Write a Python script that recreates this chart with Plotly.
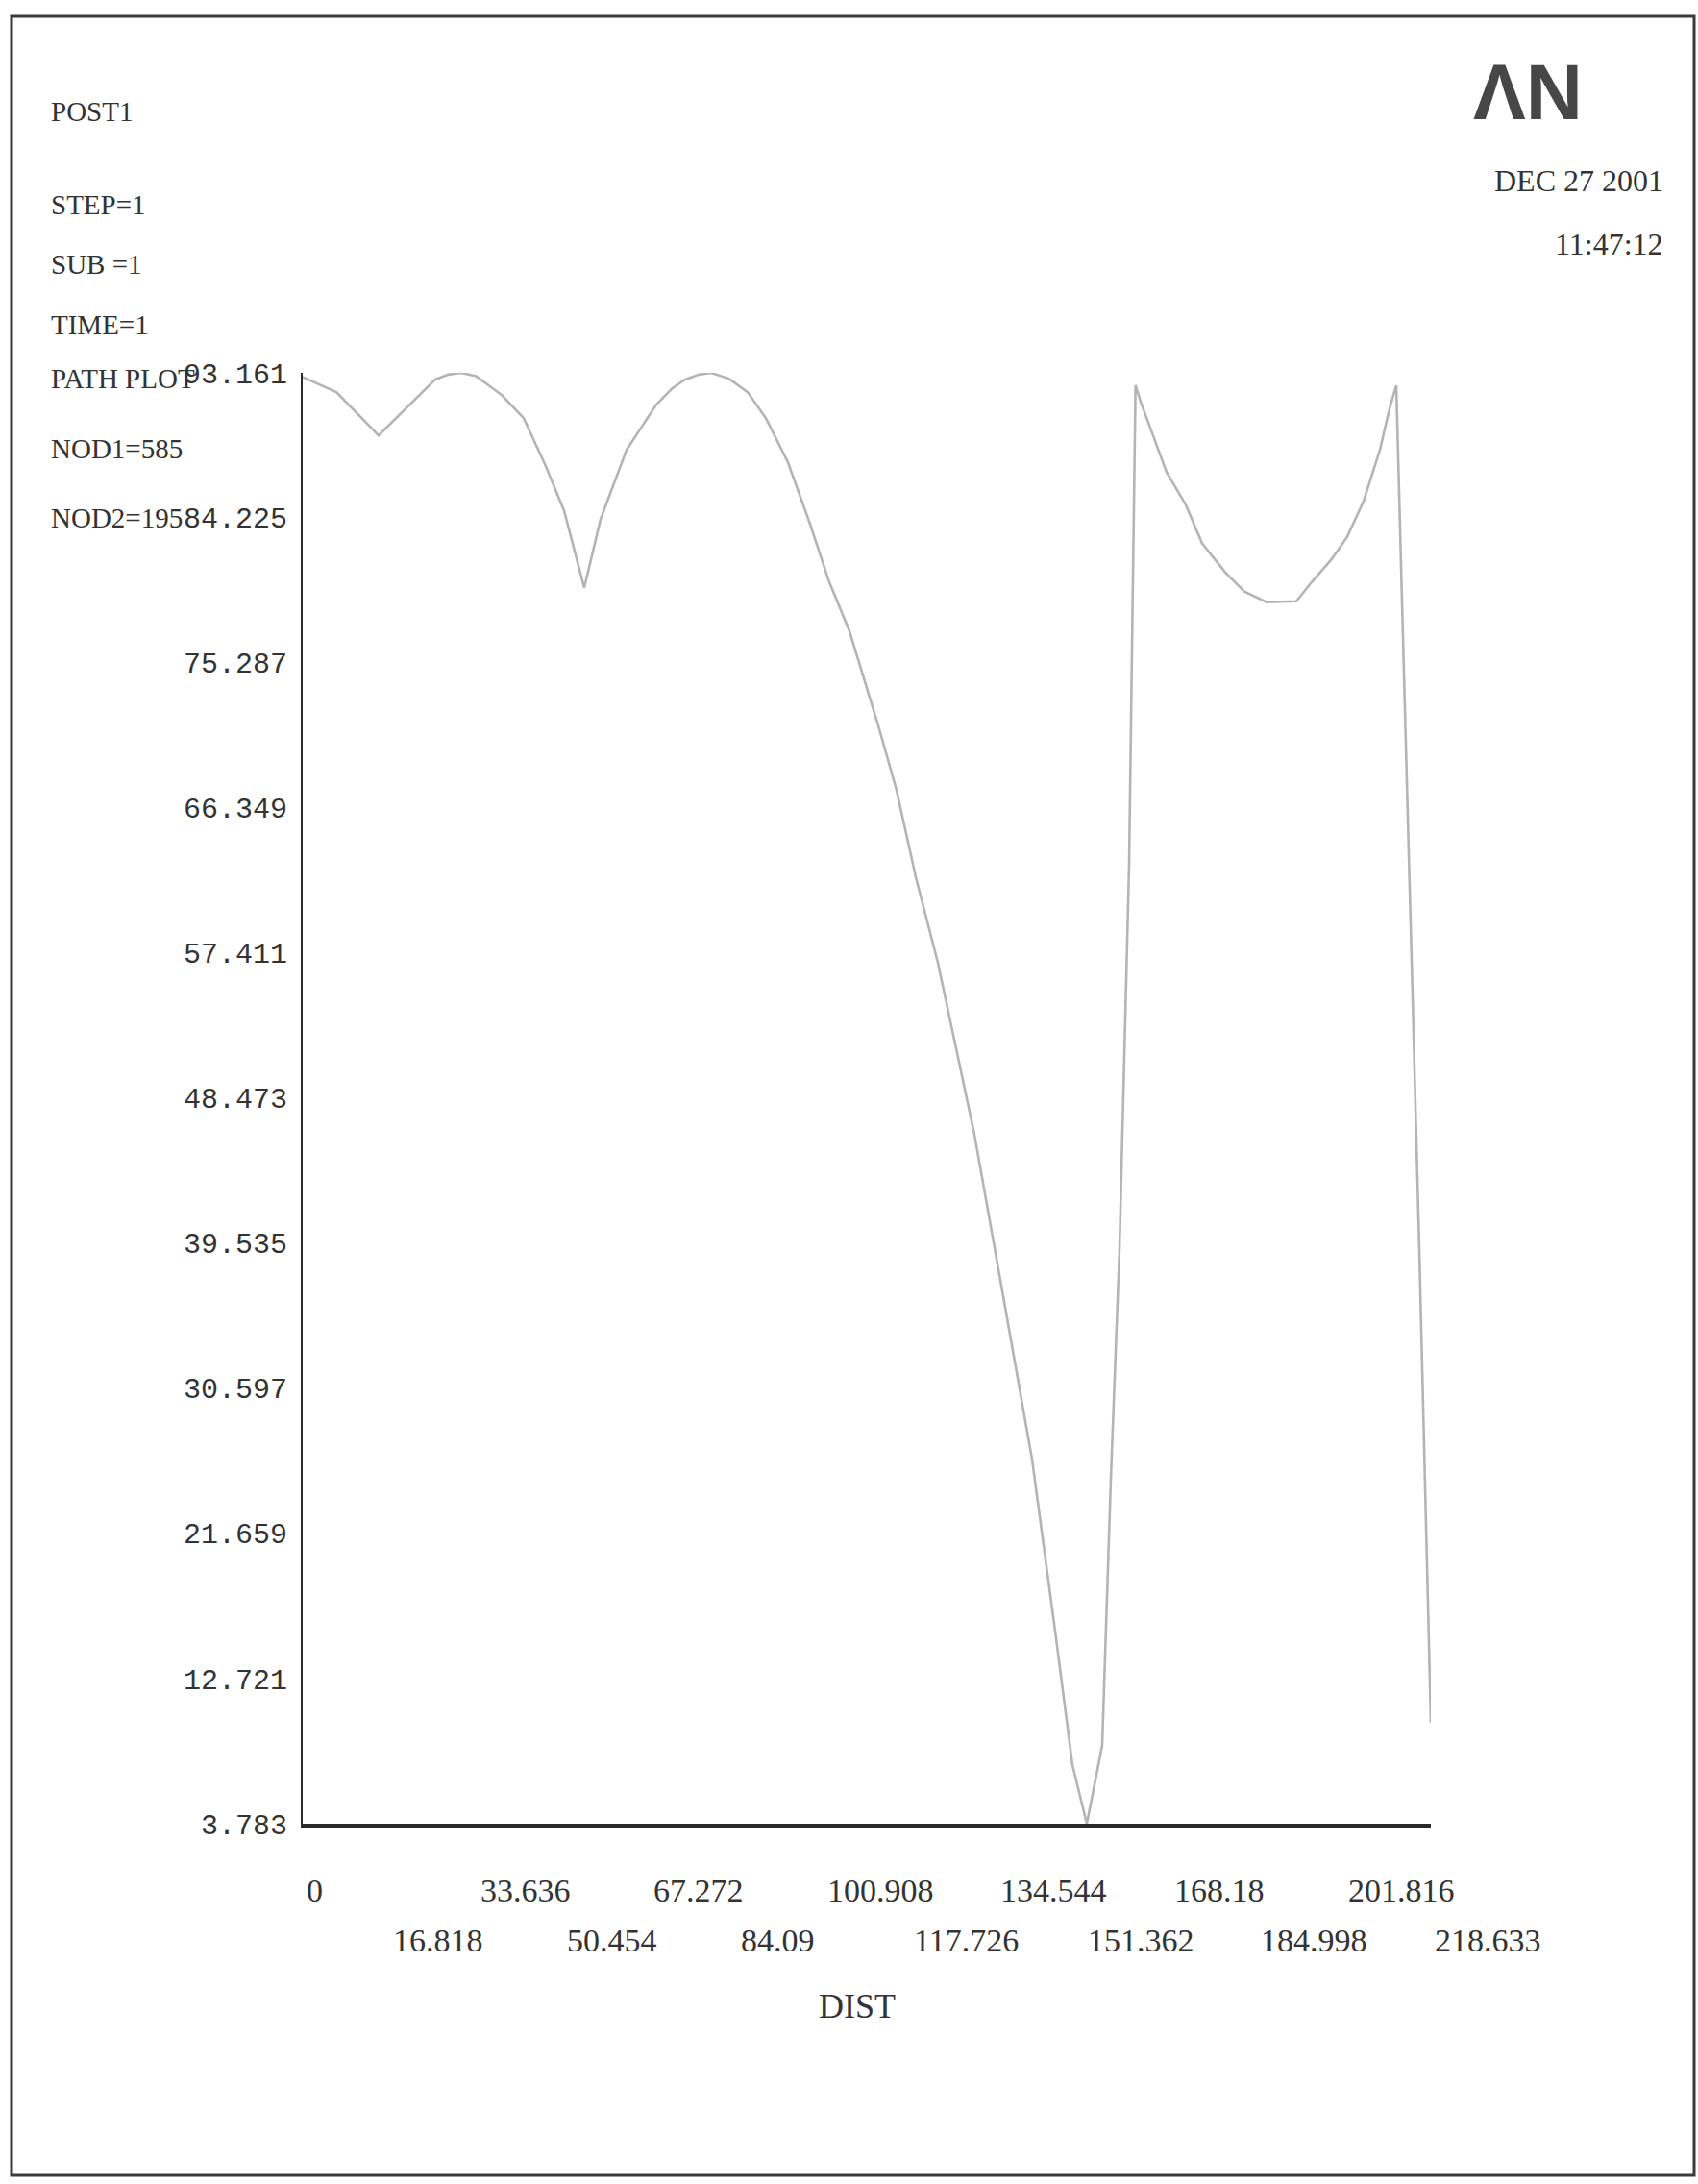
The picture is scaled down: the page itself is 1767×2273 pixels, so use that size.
import plotly.graph_objects as go

# ---------------- data ----------------
dist = [0.0, 6.52, 14.71, 20.67, 25.70, 28.2, 30.73, 33.6, 38.55, 42.83, 47.12, 50.65, 54.56,
        57.73, 62.76, 68.53, 71.6, 74.12, 76.8, 79.15, 82.6, 86.22, 89.76, 94.05, 98.33, 102.05,
        105.96, 111.55, 115.09, 118.81, 123.10, 126.64, 130.17, 134.83, 141.35,
        145.82, 149.17, 151.96, 154.94, 156.62, 158.29, 160.16, 161.40, 162.39,
        165.00, 167.42, 171.14, 174.31, 178.78, 182.50, 186.79, 192.56, 195.54,
        199.45, 202.43, 205.60, 208.76, 210.63, 211.93, 216.40, 218.633]
value = [92.9, 91.97, 89.30, 91.20, 92.75, 93.05, 93.16, 92.95, 91.80, 90.37, 87.40, 84.67, 79.92,
         84.14, 88.41, 91.20, 92.2, 92.75, 93.05, 93.16, 92.8, 91.97, 90.37, 87.64, 83.84, 80.27,
         77.25, 71.43, 67.45, 62.10, 56.82, 51.53, 46.25, 37.93, 26.23,
         15.66, 7.41, 3.783, 8.60, 25.05, 39.12, 62.87, 92.40, 91.38,
         89.18, 87.04, 85.03, 82.65, 80.87, 79.68, 79.03, 79.09, 80.27,
         81.70, 83.06, 85.26, 88.41, 90.96, 92.39, 39.12, 10.02]

x_ticks = [0, 16.818, 33.636, 50.454, 67.272, 84.09, 100.908, 117.726, 134.544,
           151.362, 168.18, 184.998, 201.816, 218.633]
x_tick_text = ["0", "16.818", "33.636", "50.454", "67.272", "84.09", "100.908",
               "117.726", "134.544", "151.362", "168.18", "184.998", "201.816", "218.633"]
y_ticks = [3.783, 12.721, 21.659, 30.597, 39.535, 48.473, 57.411, 66.349, 75.287,
           84.225, 93.161]
y_tick_text = ["3.783", "12.721", "21.659", "30.597", "39.535", "48.473", "57.411",
               "66.349", "75.287", "84.225", "93.161"]

header_lines = ["POST1", "STEP=1", "SUB =1", "TIME=1", "PATH PLOT", "NOD1=585", "NOD2=195"]
date_lines = ["DEC 27 2001", "11:47:12"]
x_title = "DIST"
logo = "ΛN"

# ---------------- layout geometry (pixels) ----------------
W, H = 1767, 2273
L, R, T, B = 315, 1489, 388, 1898
PW, PH = R - L, B - T


def px(x):
    return (x - L) / PW


def py(y):
    return (B - y) / PH


TEXT = "#333333"
SERIF = "Liberation Serif"
MONO = "Liberation Mono"

fig = go.Figure()
fig.add_trace(go.Scatter(x=dist, y=value, mode="lines",
                         line=dict(color="#b4b4b4", width=2.6),
                         hoverinfo="skip", showlegend=False))

annotations = []
# header text, left column
header_y = [116, 213, 275, 338, 394, 467, 539]
for txt, yy in zip(header_lines, header_y):
    annotations.append(dict(text=txt, xref="paper", yref="paper", x=px(51), y=py(yy),
                            xanchor="left", yanchor="middle", showarrow=False,
                            font=dict(family=SERIF, size=29, color=TEXT)))
# date/time, right
for txt, yy in zip(date_lines, [188, 254]):
    annotations.append(dict(text=txt, xref="paper", yref="paper", x=px(1733), y=py(yy),
                            xanchor="right", yanchor="middle", showarrow=False,
                            font=dict(family=SERIF, size=32, color=TEXT)))
# logo
annotations.append(dict(text="<b>" + logo + "</b>", xref="paper", yref="paper",
                        x=px(1590), y=py(95), xanchor="center", yanchor="middle",
                        showarrow=False,
                        font=dict(family="Liberation Sans", size=82, color="#474747")))
# x tick labels, staggered, left-aligned at tick
for i, (v, t) in enumerate(zip(x_ticks, x_tick_text)):
    annotations.append(dict(text=t, xref="x", yref="paper", x=v,
                            y=py(1967 if i % 2 == 0 else 2019),
                            xanchor="left", yanchor="middle", showarrow=False, xshift=2,
                            font=dict(family=SERIF, size=34, color=TEXT)))
# axis title
annotations.append(dict(text=x_title, xref="paper", yref="paper", x=px(892), y=py(2088),
                        xanchor="center", yanchor="middle", showarrow=False,
                        font=dict(family=SERIF, size=36, color=TEXT)))

shapes = [dict(type="rect", xref="paper", yref="paper",
               x0=px(12), x1=px(1763), y0=py(2264), y1=py(17),
               line=dict(color="#3a3a3a", width=3), fillcolor="rgba(0,0,0,0)",
               layer="below")]

fig.update_layout(
    width=W, height=H,
    margin=dict(l=L, r=W - R, t=T, b=H - B, pad=0),
    paper_bgcolor="white", plot_bgcolor="white",
    showlegend=False,
    annotations=annotations,
    shapes=shapes,
    xaxis=dict(range=[0, 218.633], showgrid=False, zeroline=False,
               showline=True, linecolor="#2a2a2a", linewidth=4,
               showticklabels=False, ticks=""),
    yaxis=dict(range=[3.783, 93.161], showgrid=False, zeroline=False,
               showline=True, linecolor="#2a2a2a", linewidth=2,
               tickmode="array", tickvals=y_ticks, ticktext=y_tick_text,
               ticks="", ticklabelstandoff=8,
               tickfont=dict(family=MONO, size=30, color=TEXT)),
)

fig.write_html("out.html")
